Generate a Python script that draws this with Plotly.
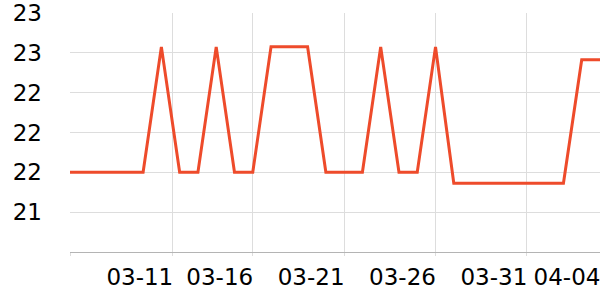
import plotly.graph_objects as go

dates = ["2024-03-%02d" % d for d in range(6, 32)] + ["2024-04-%02d" % d for d in range(1, 5)]
values = [21.6, 21.6, 21.6, 21.6, 21.6, 22.86, 21.6, 21.6, 22.86, 21.6,
          21.6, 22.86, 22.86, 22.86, 21.6, 21.6, 21.6, 22.86, 21.6, 21.6,
          22.86, 21.49, 21.49, 21.49, 21.49, 21.49, 21.49, 21.49, 22.73, 22.73]

x_tick_vals = ["2024-03-06", "2024-03-11 15:00", "2024-03-16", "2024-03-21",
               "2024-03-26", "2024-03-31", "2024-04-04"]
x_tick_text = ["", "03-11", "03-16", "03-21", "03-26", "03-31", "04-04"]

y_tick_vals = [20.8, 21.2, 21.6, 22.0, 22.4, 22.8, 23.2]
y_tick_text = ["", "21", "22", "22", "22", "23", "23"]

fig = go.Figure()
fig.add_trace(go.Scatter(
    x=dates, y=values, mode="lines",
    line=dict(color="#ee4b2b", width=3),
    hoverinfo="skip",
))

font = dict(family="DejaVu Sans", size=23, color="#000000")

fig.update_layout(
    width=600, height=300,
    margin=dict(l=70, r=0, t=10, b=48),
    paper_bgcolor="white", plot_bgcolor="white",
    showlegend=False,
    font=font,
)
fig.update_xaxes(
    type="date",
    range=["2024-03-06", "2024-04-04"],
    tickmode="array", tickvals=x_tick_vals, ticktext=x_tick_text,
    showgrid=True, gridcolor="#dddddd", gridwidth=1,
    showline=True, linecolor="#b4b4b4", linewidth=1,
    ticks="outside", ticklen=3, tickcolor="#dddddd",
    ticklabelshift=-33, ticklabelstandoff=1,
    ticklabeloverflow="allow",
    tickfont=font,
    zeroline=False,
)
fig.update_yaxes(
    range=[20.8, 23.2],
    tickmode="array", tickvals=y_tick_vals, ticktext=y_tick_text,
    showgrid=True, gridcolor="#dddddd", gridwidth=1,
    showline=False, ticks="",
    ticklabelstandoff=27,
    ticklabeloverflow="allow",
    tickfont=font,
    zeroline=False,
)

fig.write_html("out.html")
